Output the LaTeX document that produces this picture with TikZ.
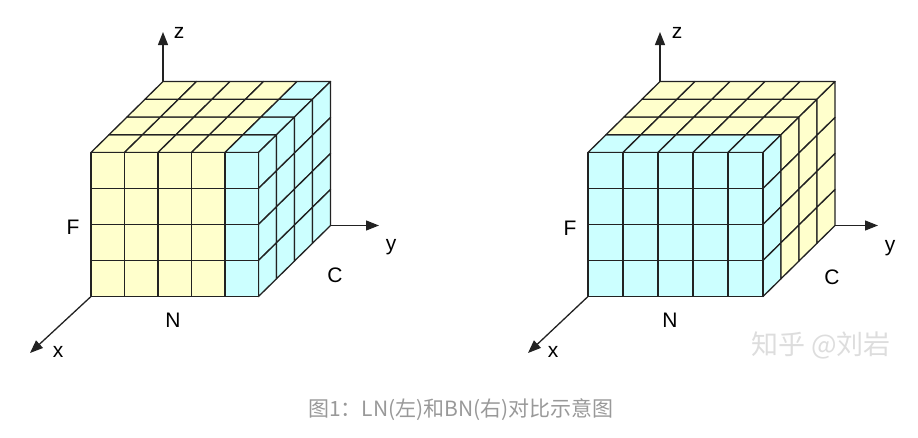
\documentclass[tikz,border=0pt]{standalone}
\usepackage{fontspec}
\usepackage{xcolor}
\usepackage{tikz}
\usetikzlibrary{arrows.meta}
\setmainfont{Liberation Sans}
\newfontfamily\cjk{Noto Sans CJK SC}
\definecolor{CellYellow}{HTML}{FFFFCC}
\definecolor{CellCyan}{HTML}{CCFFFF}
\definecolor{CellEdge}{HTML}{222222}
\definecolor{CapGray}{HTML}{999999}
\definecolor{MarkGray}{HTML}{DDDDDD}

\begin{document}
\begin{tikzpicture}[
  x=1pt, y=-1pt,
  cell/.style={draw=CellEdge,line width=1.3pt,line join=round},
  ycell/.style={cell,fill=CellYellow},
  ccell/.style={cell,fill=CellCyan},
  axis/.style={-{Triangle[length=13pt,width=10pt]},line width=1.3pt,draw=CellEdge},
  lab/.style={font=\fontsize{21}{21}\selectfont,inner sep=0pt},
  captext/.style={font=\cjk\fontsize{21}{21}\selectfont,text=CapGray,inner sep=0pt},
  wmark/.style={font=\cjk\fontsize{27}{27}\selectfont,text=MarkGray,inner sep=0pt}
]
  \useasboundingbox (0,0) rectangle (918,437);
  \def\ch{36}
  \def\dx{18}
  \def\dz{17.75}

  % LN: one slice along N is normalised
  \begin{scope}[shift={(91,152.5)}]
    \def\cw{33.5}
    \foreach \i in {0,...,3}
      \foreach \d in {0,...,3}
        \draw[ycell] ({\i*\cw+\d*\dx},{-\d*\dz}) -- ++(\cw,0) -- ++(\dx,-\dz) -- ++(-\cw,0) -- cycle;
    \foreach \d in {0,...,3}
      \draw[ccell] ({4*\cw+\d*\dx},{-\d*\dz}) -- ++(\cw,0) -- ++(\dx,-\dz) -- ++(-\cw,0) -- cycle;
    \foreach \d in {0,...,3}
      \foreach \j in {0,...,3}
        \draw[ccell] ({5*\cw+\d*\dx},{\j*\ch-\d*\dz}) -- ++(\dx,-\dz) -- ++(0,\ch) -- ++(-\dx,\dz) -- cycle;
    \foreach \i in {0,...,3}
      \foreach \j in {0,...,3}
        \draw[ycell] ({\i*\cw},{\j*\ch}) rectangle ++(\cw,\ch);
    \foreach \j in {0,...,3}
      \draw[ccell] ({4*\cw},{\j*\ch}) rectangle ++(\cw,\ch);
    \coordinate (L-o) at (0,{4*\ch});
    \coordinate (L-top) at ({4*\dx},{-4*\dz});
    \coordinate (L-back) at ({5*\cw+4*\dx},{4*\ch-4*\dz});
  \end{scope}

  % BN: one slice along C is normalised
  \begin{scope}[shift={(588,152.5)}]
    \def\cw{35}
    \foreach \i in {0,...,4} {
      \draw[ccell] ({\i*\cw},0) -- ++(\cw,0) -- ++(\dx,-\dz) -- ++(-\cw,0) -- cycle;
      \foreach \d in {1,...,3}
        \draw[ycell] ({\i*\cw+\d*\dx},{-\d*\dz}) -- ++(\cw,0) -- ++(\dx,-\dz) -- ++(-\cw,0) -- cycle;
    }
    \foreach \j in {0,...,3} {
      \draw[ccell] ({5*\cw},{\j*\ch}) -- ++(\dx,-\dz) -- ++(0,\ch) -- ++(-\dx,\dz) -- cycle;
      \foreach \d in {1,...,3}
        \draw[ycell] ({5*\cw+\d*\dx},{\j*\ch-\d*\dz}) -- ++(\dx,-\dz) -- ++(0,\ch) -- ++(-\dx,\dz) -- cycle;
    }
    \foreach \i in {0,...,4}
      \foreach \j in {0,...,3}
        \draw[ccell] ({\i*\cw},{\j*\ch}) rectangle ++(\cw,\ch);
    \coordinate (R-o) at (0,{4*\ch});
    \coordinate (R-top) at ({4*\dx},{-4*\dz});
    \coordinate (R-back) at ({5*\cw+4*\dx},{4*\ch-4*\dz});
  \end{scope}

  % axes
  \coordinate (L-zt) at (163,32);
  \coordinate (L-yt) at (379,225.5);
  \coordinate (L-xt) at (30,353);
  \coordinate (R-zt) at (660,32);
  \coordinate (R-yt) at (878,225.5);
  \coordinate (R-xt) at (528,353);
  \draw[axis] (L-top) -- (L-zt);
  \draw[axis] (L-back) -- (L-yt);
  \draw[axis] (L-o) -- (L-xt);
  \draw[axis] (R-top) -- (R-zt);
  \draw[axis] (R-back) -- (R-yt);
  \draw[axis] (R-o) -- (R-xt);

  \node[lab] (L-z) at (179,33) {z};
  \node[lab] (L-y) at (391,247) {y};
  \node[lab] (L-x) at (58,352) {x};
  \node[lab] (L-F) at (73,227) {F};
  \node[lab] (L-N) at (173,320) {N};
  \node[lab] (L-C) at (335,275) {C};
  \node[lab] (R-z) at (677,33) {z};
  \node[lab] (R-y) at (890,248) {y};
  \node[lab] (R-x) at (553,352) {x};
  \node[lab] (R-F) at (570,228) {F};
  \node[lab] (R-N) at (670,320) {N};
  \node[lab] (R-C) at (832,277) {C};

  \node[wmark] (wm) at (821,345) {知乎 @刘岩};
  \node[captext] (caption) at (461,410) {图1：LN(左)和BN(右)对比示意图};
\end{tikzpicture}
\end{document}
